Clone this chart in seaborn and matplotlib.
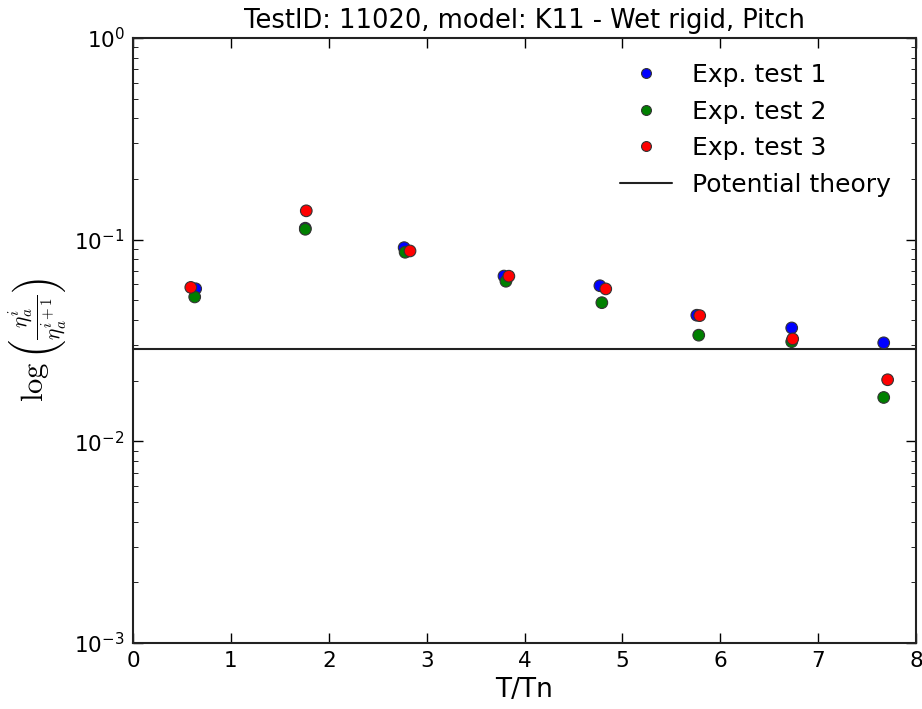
import numpy as np
import pandas as pd
import matplotlib
matplotlib.use("Agg")
import matplotlib.pyplot as plt
import seaborn as sns

# Data
test1_x = [0.64, 1.76, 2.77, 3.79, 4.77, 5.76, 6.73, 7.67]
test1_y = [0.0571, 0.114, 0.0913, 0.0660, 0.0591, 0.0422, 0.0365, 0.0308]
test2_x = [0.63, 1.76, 2.78, 3.81, 4.79, 5.78, 6.73, 7.67]
test2_y = [0.0520, 0.1126, 0.0866, 0.0622, 0.0487, 0.0336, 0.0312, 0.0165]
test3_x = [0.59, 1.77, 2.83, 3.84, 4.83, 5.79, 6.74, 7.71]
test3_y = [0.0580, 0.139, 0.0879, 0.0659, 0.0570, 0.0420, 0.0322, 0.0202]
series_names = ["Exp. test 1", "Exp. test 2", "Exp. test 3"]
series_colors = ["#0000ff", "#008000", "#ff0000"]
potential_theory = 0.0287
title = "TestID: 11020, model: K11 - Wet rigid, Pitch"

df = pd.concat([
    pd.DataFrame({"x": test1_x, "y": test1_y, "series": series_names[0]}),
    pd.DataFrame({"x": test2_x, "y": test2_y, "series": series_names[1]}),
    pd.DataFrame({"x": test3_x, "y": test3_y, "series": series_names[2]}),
], ignore_index=True)

sns.set_style("ticks")
plt.rcParams.update({
    "font.family": ["DejaVu Sans"],
    "mathtext.fontset": "cm",
    "text.color": "black",
    "axes.labelcolor": "black",
    "xtick.color": "black",
    "ytick.color": "black",
    "xtick.direction": "in",
    "ytick.direction": "in",
    "xtick.top": True,
    "ytick.right": True,
    "xtick.major.size": 7,
    "ytick.major.size": 7,
    "ytick.minor.size": 3.5,
    "xtick.major.width": 1,
    "ytick.major.width": 1,
    "axes.linewidth": 1.5,
    "axes.edgecolor": "#222222",
})

fig = plt.figure(figsize=(9.22, 7.09), dpi=100)
ax = fig.add_axes([0.1443, 0.0931, 0.8492, 0.8533])

sns.scatterplot(data=df, x="x", y="y", hue="series", hue_order=series_names,
                palette=dict(zip(series_names, series_colors)), s=70,
                edgecolor="#333333", linewidth=0.8, ax=ax, zorder=3)
ax.axhline(potential_theory, color="#222222", lw=1.5, label="Potential theory", zorder=2)

ax.set_yscale("log")
ax.set_ylim(1e-3, 1)
ax.set_xlim(0, 8)
ax.set_xticks(range(0, 9))
ax.tick_params(axis="both", which="major", labelsize=15.5, pad=6)
ax.tick_params(axis="y", which="minor", direction="in", left=True, right=True)
ax.set_xlabel("T/Tn", fontsize=19)
ax.set_ylabel(r"$\log\left(\frac{\eta_a^i}{\eta_a^{i+1}}\right)$", fontsize=22)
ax.set_title(title, fontsize=18.5, pad=7)

handles, labels = ax.get_legend_handles_labels()
leg = ax.legend(handles, labels, loc="upper right", frameon=False, fontsize=18,
                markerscale=0.85, handlelength=2.1, handletextpad=0.8,
                borderaxespad=0.6, labelspacing=0.5)

fig.savefig("out.png", dpi=100)
